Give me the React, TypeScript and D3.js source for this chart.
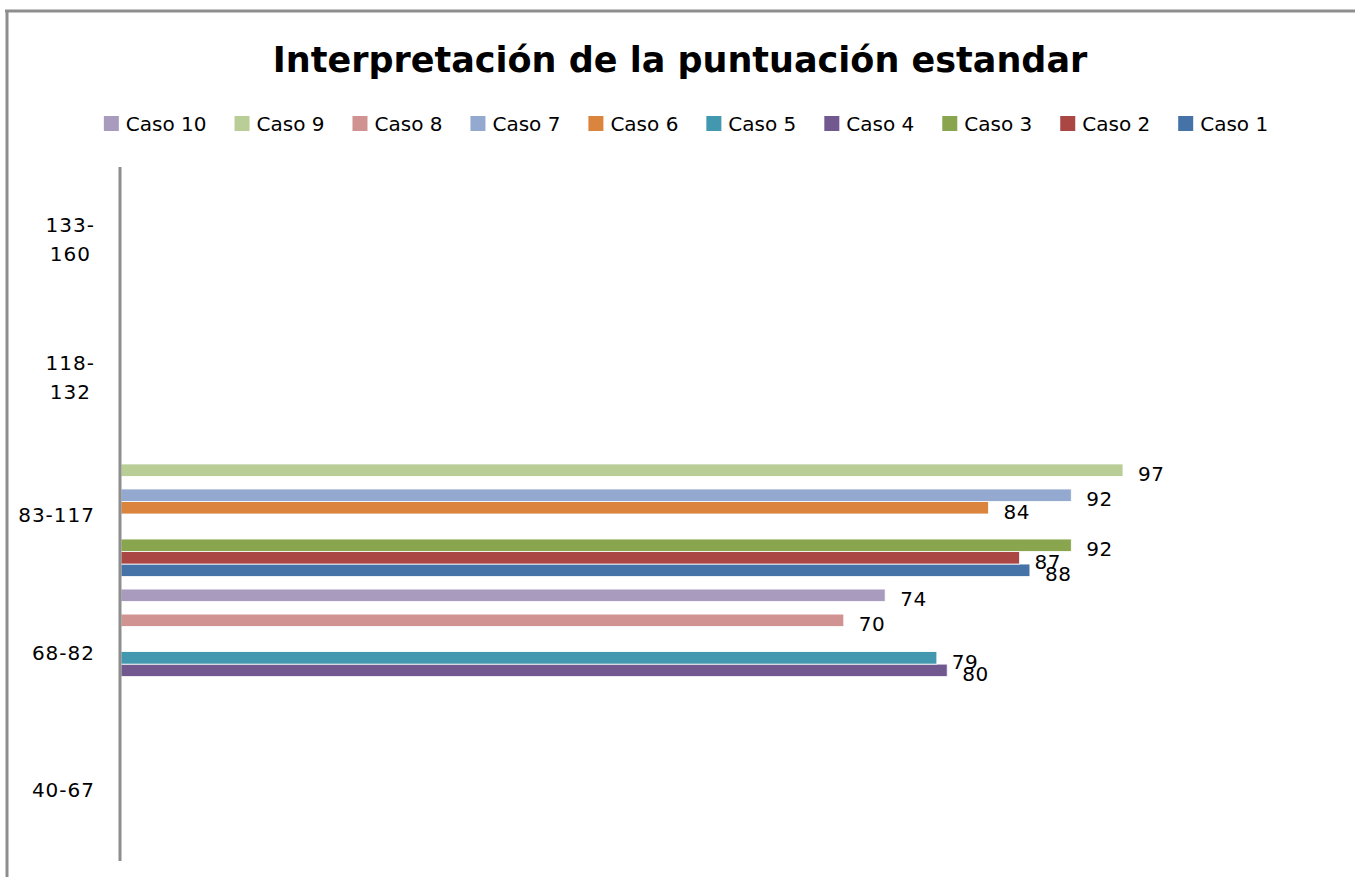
import * as d3 from 'd3'

const categories = ['40-67', '68-82', '83-117', '118-132', '133-160']
const categoryRanges: [number, number][] = [[40, 67], [68, 82], [83, 117], [118, 132], [133, 160]]
const wrappedTicks: Record<string, string[]> = {
  '118-132': ['118-', '132'],
  '133-160': ['133-', '160'],
}

const series = ['Caso 1', 'Caso 2', 'Caso 3', 'Caso 4', 'Caso 5', 'Caso 6', 'Caso 7', 'Caso 8', 'Caso 9', 'Caso 10']
const values = [88, 87, 92, 80, 79, 84, 92, 70, 97, 74]
const COLORS = ['#4572A7', '#AA4643', '#89A54E', '#71588F', '#4198AF', '#DB843D', '#93A9CF', '#D19392', '#B9CD96', '#A99BBD']

const W = 1355
const H = 877
const FONT = '"DejaVu Sans", sans-serif'
const GRAY = '#8e8e8e'

let ctx: CanvasRenderingContext2D | null = null
function textWidth(s: string, font: string) {
  if (!ctx) ctx = document.createElement('canvas').getContext('2d')
  if (!ctx) return s.length * 11
  ctx.font = font
  return ctx.measureText(s).width
}

export default function App() {
  const x = d3.scaleLinear().domain([0, 100]).range([120, 1154])
  const y = d3.scaleBand().domain(categories).range([858, 170]).padding(0)
  const bw = y.bandwidth()
  // series 1 at the bottom of each group, gap = one bar width
  const inner = d3.scaleBand()
    .domain([...series].reverse())
    .range([bw / 22, bw - bw / 22])
    .padding(0)

  const bars = series.map((s, i) => {
    const v = values[i]
    const ci = categoryRanges.findIndex(([lo, hi]) => v >= lo && v <= hi)
    const top = (y(categories[ci]) ?? 0) + (inner(s) ?? 0)
    return { s, v, color: COLORS[i], top, h: inner.bandwidth() }
  })

  // legend: Caso 10 ... Caso 1, centered
  const legendFont = `20px ${FONT}`
  const legendItems = [...series].reverse().map(s => ({
    s,
    color: COLORS[series.indexOf(s)],
    w: 22 + textWidth(s, legendFont),
  }))
  const legendGap = 28
  const legendTotal = d3.sum(legendItems, d => d.w) + legendGap * (legendItems.length - 1)
  let lx = 686 - legendTotal / 2
  const legendPos = legendItems.map(d => {
    const p = lx
    lx += d.w + legendGap
    return p
  })

  const tickFont = `20px ${FONT}`

  return (
    <svg width={W} height={H} style={{ position: 'absolute', left: 0, top: 0, display: 'block', background: '#fff' }}>
      {/* chart frame */}
      <line x1={5} x2={W} y1={11} y2={11} stroke={GRAY} strokeWidth={3} />
      <line x1={7} x2={7} y1={10} y2={H} stroke={GRAY} strokeWidth={3} />

      <text x={680} y={72} textAnchor="middle" fontFamily={FONT} fontWeight="bold" fontSize={35} fill="#000">
        Interpretación de la puntuación estandar
      </text>

      {legendItems.map((d, i) => (
        <g key={d.s} transform={`translate(${legendPos[i]},0)`}>
          <rect x={0} y={116} width={15} height={15} fill={d.color} />
          <text x={22} y={131} fontFamily={FONT} fontSize={20} fill="#000">{d.s}</text>
        </g>
      ))}

      {bars.map(b => (
        <rect key={b.s} x={121} y={b.top} width={x(b.v) - 121} height={b.h}
          fill={b.color} stroke="#fff" strokeWidth={0.8} />
      ))}

      {bars.map(b => (
        <text key={b.s} x={x(b.v) + 15} y={b.top + b.h / 2 + 11} fontFamily={FONT} fontSize={20}
          letterSpacing={0.5} fill="#000">
          {b.v}
        </text>
      ))}

      {/* category axis */}
      <line x1={120} x2={120} y1={167} y2={861} stroke={GRAY} strokeWidth={3} />
      {categories.map(c => {
        const cy = (y(c) ?? 0) + bw / 2
        const lines = wrappedTicks[c]
        if (!lines) {
          return (
            <text key={c} x={95} y={cy + 8} textAnchor="end" fontFamily={FONT} fontSize={20}
              letterSpacing={1} fill="#000">{c}</text>
          )
        }
        const maxW = d3.max(lines, l => textWidth(l, tickFont) + l.length) ?? 0
        const cx = 95 - maxW / 2
        return (
          <g key={c}>
            {lines.map((l, j) => (
              <text key={l} x={cx} y={cy - 7 + (j - (lines.length - 1) / 2) * 29 + 15}
                textAnchor="middle" fontFamily={FONT} fontSize={20} letterSpacing={1} fill="#000">{l}</text>
            ))}
          </g>
        )
      })}
    </svg>
  )
}
